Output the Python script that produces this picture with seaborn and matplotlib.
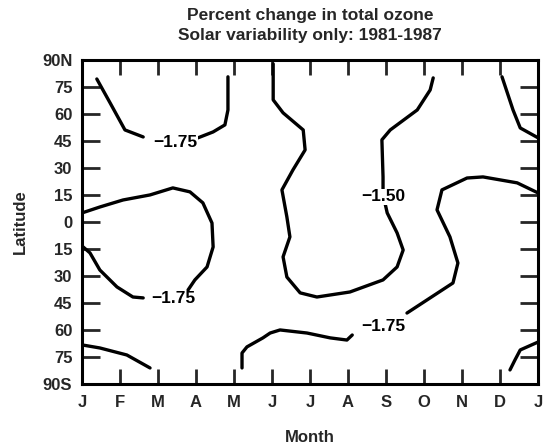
import matplotlib
matplotlib.use("Agg")
import matplotlib.pyplot as plt
import seaborn as sns
import pandas as pd

# contour segments: (month from Jan 1, latitude)
seg_top_left_a_m = [0.39, 0.74, 1.13, 1.61]
seg_top_left_a_l = [79.4, 66.1, 51.1, 47.2]
seg_top_left_b_m = [3.05, 3.45, 3.76, 3.84, 3.84]
seg_top_left_b_l = [46.7, 50.0, 53.9, 62.2, 80.6]

seg_mid_left_a_m = [0.0, 0.47, 1.08, 1.79, 2.39, 2.84, 3.18, 3.42, 3.45, 3.29, 2.97, 2.79]
seg_mid_left_a_l = [5.0, 8.3, 12.2, 15.0, 18.9, 16.7, 10.6, -0.6, -13.9, -25.0, -32.2, -37.8]
seg_mid_left_b_m = [1.61, 1.34, 0.92, 0.47, 0.21, 0.03]
seg_mid_left_b_l = [-42.2, -41.7, -36.1, -26.7, -17.2, -13.9]

seg_bot_left_m = [0.0, 0.47, 1.18, 1.79]
seg_bot_left_l = [-68.3, -70.0, -73.9, -81.1]

seg_bot_mid_a_m = [4.21, 4.21, 4.34, 4.76, 4.95, 5.21, 5.92, 6.53, 6.97, 7.11]
seg_bot_mid_a_l = [-81.1, -72.8, -69.4, -64.4, -61.7, -60.0, -61.7, -64.4, -65.6, -62.8]
seg_bot_mid_b_m = [8.55, 9.76, 9.89, 9.68, 9.34, 9.47, 10.13, 10.55, 11.45, 12.0]
seg_bot_mid_b_l = [-50.6, -33.9, -22.8, -8.3, 6.7, 17.8, 24.4, 25.0, 21.7, 16.1]

seg_150_m = [5.03, 5.03, 5.29, 5.82, 5.87, 5.55, 5.26, 5.39, 5.47, 5.29, 5.39, 5.74, 6.18,
             7.05, 7.92, 8.29, 8.45, 8.29, 8.03, 7.97, 7.92, 7.92, 7.89, 8.11, 8.82, 9.16, 9.24]
seg_150_l = [87.8, 67.8, 60.6, 51.1, 40.0, 28.9, 17.8, 2.8, -8.3, -19.4, -30.6, -39.4, -41.7,
             -38.9, -32.2, -25.0, -15.6, -6.1, 5.0, 10.6, 13.9, 25.0, 45.6, 51.1, 62.2, 73.3, 80.0]

seg_top_right_m = [11.05, 11.34, 11.53, 12.0]
seg_top_right_l = [80.6, 62.2, 52.2, 46.7]

seg_bot_right_m = [12.0, 11.53, 11.39, 11.26]
seg_bot_right_l = [-66.7, -71.1, -76.7, -82.2]

label_text = ["\u22121.75", "\u22121.75", "\u22121.75", "\u22121.50"]
label_m = [2.45, 2.39, 7.92, 7.92]
label_l = [43.9, -42.8, -58.3, 13.9]

month_labels = ["J", "F", "M", "A", "M", "J", "J", "A", "S", "O", "N", "D", "J"]
lat_ticks = [90, 75, 60, 45, 30, 15, 0, -15, -30, -45, -60, -75, -90]
lat_labels = ["90N", "75", "60", "45", "30", "15", "0", "15", "30", "45", "60", "75", "90S"]

segments = [
    (seg_top_left_a_m, seg_top_left_a_l), (seg_top_left_b_m, seg_top_left_b_l),
    (seg_mid_left_a_m, seg_mid_left_a_l), (seg_mid_left_b_m, seg_mid_left_b_l),
    (seg_bot_left_m, seg_bot_left_l),
    (seg_bot_mid_a_m, seg_bot_mid_a_l), (seg_bot_mid_b_m, seg_bot_mid_b_l),
    (seg_150_m, seg_150_l),
    (seg_top_right_m, seg_top_right_l), (seg_bot_right_m, seg_bot_right_l),
]
rows = []
for i, (ms, ls) in enumerate(segments):
    for k, (m, l) in enumerate(zip(ms, ls)):
        rows.append({"seg": i, "order": k, "month": m, "lat": l})
df = pd.DataFrame(rows)

sns.set_style("white")
plt.rcParams["font.family"] = ["Liberation Sans", "DejaVu Sans"]
plt.rcParams["font.weight"] = "bold"

fig = plt.figure(figsize=(5.43, 4.47), dpi=100)
ax = fig.add_axes([0.151, 0.141, 0.840, 0.725])

sns.lineplot(data=df, x="month", y="lat", units="seg", estimator=None, sort=False,
             color="black", linewidth=2.4, ax=ax, legend=False)

for t, m, l in zip(label_text, label_m, label_l):
    ax.text(m, l, t, ha="center", va="center", fontsize=12.5, fontweight="bold",
            color="black", bbox=dict(facecolor="white", edgecolor="none", pad=0.5))

ax.set_xlim(0, 12)
ax.set_ylim(-90, 90)
ax.set_xticks(range(13))
ax.set_xticklabels(month_labels, fontsize=12, fontweight="bold")
ax.set_yticks(lat_ticks)
ax.set_yticklabels(lat_labels, fontsize=12, fontweight="bold")
ax.tick_params(axis="x", direction="in", length=11, width=2, top=True, bottom=True, pad=8)
ax.tick_params(axis="y", direction="in", length=13, width=2, left=True, right=True, pad=7)
for s in ax.spines.values():
    s.set_visible(True)
    s.set_linewidth(2.2)
    s.set_color("black")

ax.set_xlabel("Month", fontsize=12, fontweight="bold", labelpad=14)
ax.set_ylabel("Latitude", fontsize=12, fontweight="bold", labelpad=10)
ax.set_title("Percent change in total ozone\nSolar variability only: 1981-1987",
             fontsize=12.5, fontweight="bold", pad=14, linespacing=1.45)

fig.savefig("out.png", dpi=100)
